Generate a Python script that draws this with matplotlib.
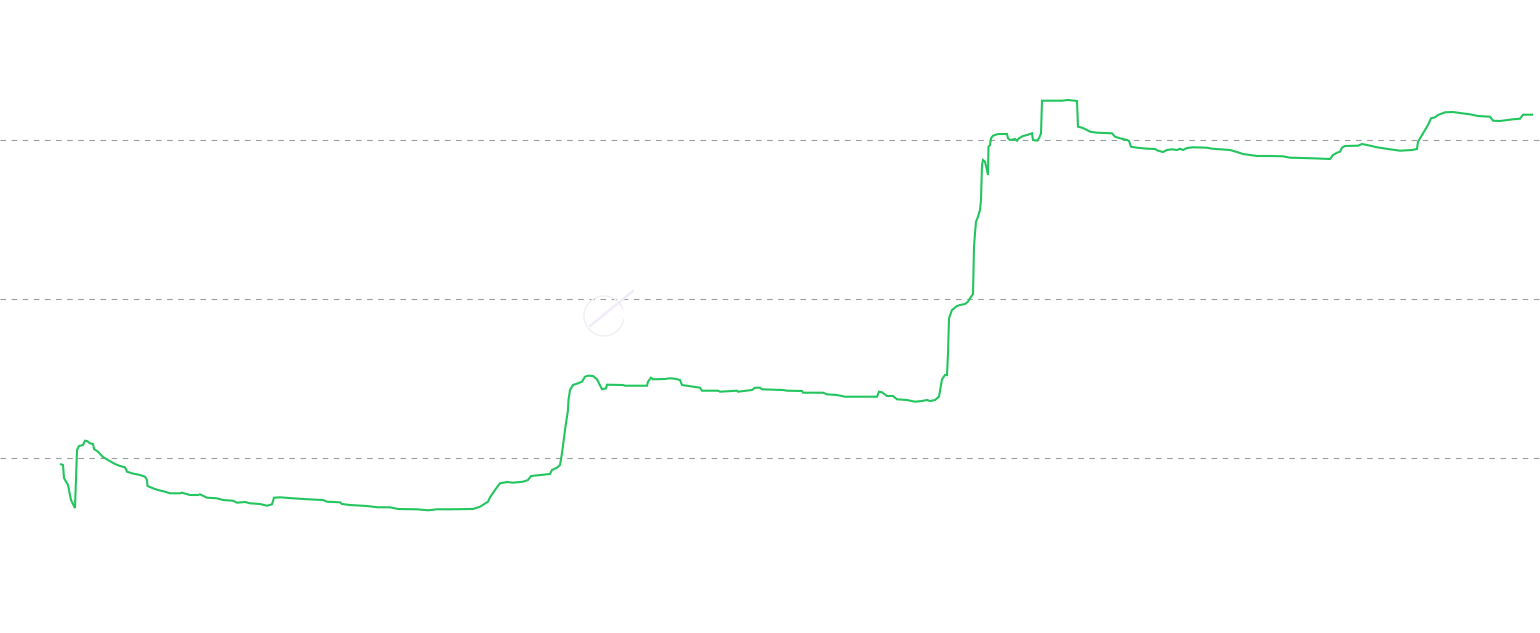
import matplotlib
matplotlib.use("Agg")
import matplotlib.pyplot as plt
from matplotlib.patches import Arc
from matplotlib.lines import Line2D

# time index of each reading
steps = [61, 63, 64, 68, 71, 75, 77, 79, 83, 85, 87, 90, 93, 94, 98, 103, 108, 115, 120, 125,
         127, 132, 140, 145, 147, 147.5, 153, 158, 165, 170, 180, 182, 190, 198, 200, 207, 217, 223,
         233, 237, 245, 250, 260, 267, 272, 274, 280, 293, 308, 323, 327, 340, 342, 350, 367,
         378, 390, 398, 417, 428, 437, 450, 473, 480, 488, 490, 495, 500, 507, 513, 523, 528,
         531, 540, 550, 552, 557, 560, 562, 565, 568, 568.5, 570, 573, 578, 582, 585, 588, 593,
         597, 602, 606, 607, 623, 625, 647, 648, 651, 653, 665, 670, 675, 680, 682, 693, 700,
         702, 718, 720, 737, 738, 752, 755, 760, 762, 783, 787, 802, 803, 823, 827, 837, 845,
         877, 879, 882, 887, 893, 897, 907, 915, 922, 927, 930, 935, 939, 942, 945, 947, 948,
         949, 952, 957, 960, 965, 968, 970, 973, 974, 975, 976, 978, 980, 981, 982, 983, 985,
         987, 988, 988.5, 990, 991, 993, 998, 1007, 1008, 1010, 1015, 1017, 1019, 1023, 1027,
         1032, 1033, 1037, 1039, 1041, 1042, 1048, 1062, 1068, 1077, 1078, 1082, 1087, 1090,
         1097, 1112, 1115, 1120, 1127, 1129, 1131, 1137, 1147, 1155, 1158, 1163, 1167, 1172,
         1177, 1180, 1183, 1187, 1193, 1207, 1212, 1230, 1237, 1243, 1257, 1270, 1283, 1290,
         1313, 1330, 1333, 1337, 1340, 1342, 1345, 1358, 1362, 1367, 1377, 1390, 1400, 1412,
         1417, 1418, 1422, 1425, 1428, 1431, 1435, 1438, 1445, 1453, 1462, 1470, 1478, 1490,
         1493, 1500, 1513, 1520, 1523, 1532]

values = [96.04, 95.60, 87.42, 83.02, 73.58, 68.55, 105.03, 107.55, 108.18, 110.88, 110.69,
          109.25, 108.81, 105.66, 103.96, 100.63, 98.74, 96.23, 94.97, 94.15, 91.38, 90.38,
          89.31, 88.24, 86.16, 82.39, 80.94, 79.87, 78.81, 77.80, 77.80, 78.18, 76.73, 76.73,
          77.17, 75.03, 74.65, 73.58, 73.14, 71.89, 72.33, 71.51, 71.07, 70.00, 70.88, 75.03,
          75.28, 74.65, 74.03, 73.58, 72.52, 72.14, 71.07, 70.44, 69.81, 68.99, 68.99, 67.92,
          67.74, 67.11, 67.74, 67.74, 67.92, 69.37, 72.52, 75.28, 79.87, 84.09, 84.91, 84.47,
          85.09, 86.16, 88.68, 89.31, 89.94, 92.45, 93.90, 95.60, 102.96, 117.61, 130.19,
          136.48, 142.77, 145.91, 146.98, 147.99, 151.13, 151.76, 151.57, 149.50, 143.21,
          143.84, 146.10, 145.91, 145.47, 145.47, 147.99, 150.50, 149.50, 149.69, 150.13,
          149.87, 149.06, 145.91, 144.84, 144.21, 142.33, 142.33, 141.70, 142.33, 141.70,
          142.77, 144.21, 144.21, 143.21, 142.77, 142.33, 142.14, 141.07, 141.07, 140.06,
          139.62, 138.55, 138.55, 141.70, 141.32, 138.99, 138.99, 136.92, 136.48, 135.41,
          135.85, 136.48, 135.85, 136.48, 138.55, 149.50, 152.20, 152.20, 165.85, 187.86,
          193.08, 195.60, 196.23, 196.86, 198.30, 200.44, 203.14, 232.89, 241.32, 248.62,
          251.76, 255.97, 262.26, 284.28, 287.42, 286.35, 281.13, 277.99, 295.79, 296.86,
          301.07, 302.70, 303.77, 303.77, 301.07, 300.00, 300.63, 299.56, 301.07, 302.52,
          303.14, 304.21, 300.00, 299.56, 301.07, 304.21, 324.72, 324.72, 324.72, 325.16,
          324.53, 308.36, 307.74, 306.29, 305.22, 304.59, 304.21, 302.08, 301.07, 300.00,
          299.37, 295.79, 295.16, 294.53, 294.34, 293.27, 292.45, 293.71, 294.15, 293.71,
          294.53, 293.71, 294.97, 295.41, 295.16, 294.53, 293.71, 292.45, 291.19, 289.94,
          289.94, 289.75, 288.87, 288.49, 288.05, 290.57, 292.01, 292.64, 295.16, 296.23,
          296.42, 297.48, 296.86, 295.41, 294.15, 293.27, 293.71, 294.34, 298.93, 303.14,
          306.29, 309.43, 313.65, 314.28, 315.72, 317.42, 317.61, 316.79, 316.16, 315.09,
          314.65, 312.14, 311.95, 313.02, 313.40, 315.91, 315.91]

grid_levels = [100, 200, 300]

fig = plt.figure(figsize=(15.4, 6.33), dpi=100)
ax = fig.add_axes([0, 0, 1, 1])
ax.plot(steps, values, color="#22c55e", lw=1.5, solid_joinstyle="miter", zorder=3)

ax.set_xlim(0, 1540)
ax.set_ylim(-10.06, 388.05)
ax.set_yticks(grid_levels)
ax.set_xticks([])
ax.grid(axis="y", color="#9e9e9e", lw=0.8, ls=(0, (5, 5)))
ax.tick_params(left=False, labelleft=False)
for s in ax.spines.values():
    s.set_visible(False)

# faint watermark in the middle
cx, cy = 604 / 1540, 1 - 316 / 633
fig.add_artist(Arc((cx, cy), 40 / 1540, 40 / 633, theta1=40, theta2=340,
                   transform=fig.transFigure, color="#f0f0f4", lw=1.0))
fig.add_artist(Line2D([590 / 1540, 633 / 1540], [1 - 326 / 633, 1 - 291 / 633],
                      transform=fig.transFigure, color="#f1ebfa", lw=1.8,
                      solid_capstyle="round"))

fig.savefig("out.png", dpi=100)
